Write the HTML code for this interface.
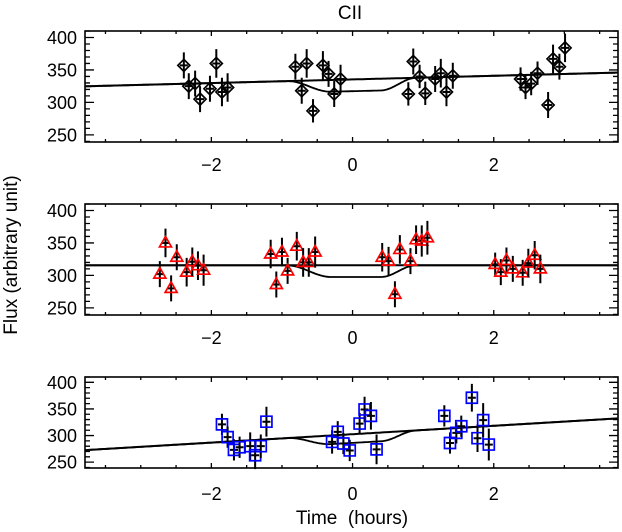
<!DOCTYPE html>
<html><head><meta charset="utf-8"><style>
html,body{margin:0;padding:0;background:#fff;}
svg{display:block;font-family:"Liberation Sans",sans-serif;}
</style></head><body>
<svg id="chart" width="622" height="532" viewBox="0 0 622 532" xmlns="http://www.w3.org/2000/svg">
<text x="350" y="19" font-size="19" text-anchor="middle">CII</text>
<text x="352" y="524" font-size="19" text-anchor="middle" xml:space="preserve">Time  (hours)</text>
<text x="0" y="0" font-size="19" text-anchor="middle" transform="translate(17,255) rotate(-90)">Flux (arbitrary unit)</text>
</svg>
<script>
// panel 1 data (black diamonds)
const t1 = [-2.39,-2.32,-2.23,-2.16,-2.02,-1.93,-1.85,-1.77,-0.81,-0.72,-0.65,-0.56,-0.42,-0.34,-0.26,-0.17,0.79,0.86,0.95,1.03,1.17,1.25,1.33,1.42,2.38,2.45,2.53,2.62,2.77,2.84,2.93,3.01];
const f1 = [357,325,329,305,321,360,316,323,355,318,360,287,357,344,313,336,313,363,340,314,336,345,316,341,336,323,329,345,296,367,355,384];
const e1 = [20,20,20,20,20,22,22,22,20,20,22,18,22,20,20,22,18,20,18,18,20,22,22,20,18,18,18,18,20,22,20,22];
// panel 2 data (red triangles)
const t2 = [-2.73,-2.65,-2.57,-2.49,-2.35,-2.27,-2.19,-2.11,-1.16,-1.08,-1.0,-0.92,-0.79,-0.70,-0.62,-0.53,0.42,0.51,0.60,0.67,0.82,0.90,0.98,1.06,2.02,2.10,2.18,2.27,2.41,2.49,2.58,2.66];
const f2 = [302,350,280,328,305,321,315,308,333,286,336,307,345,320,320,336,328,322,271,340,322,355,353,358,317,305,323,310,304,319,331,310];
const e2 = [20,22,20,20,22,22,22,24,22,20,22,20,22,22,22,24,22,22,20,22,20,22,24,26,18,20,20,20,20,22,22,22];
// panel 3 data (blue squares)
const t3 = [-1.85,-1.77,-1.68,-1.60,-1.45,-1.38,-1.30,-1.22,-0.29,-0.21,-0.13,-0.04,0.10,0.17,0.26,0.34,1.30,1.38,1.47,1.54,1.69,1.77,1.85,1.93];
const f3 = [321,297,273,278,280,263,280,326,288,307,285,272,322.5,349,337,274,337,286,305,317.5,371,295,329,283];
const e3 = [20,20,20,20,26,26,22,28,22,20,20,20,20,24,26,28,20,20,20,20,26,26,32,30];
// model parameters: baseline intercept, slope, fractional transit depth
const base = [335.4, 315.5, 302.5];
const slope = [2.8, 0, 7.9];
const depth = [0.054, 0.057, 0.054];
const contact = [-0.93, -0.3, 0.4, 0.9];
const xTicks = [-2, 0, 2];
const yTicks = [250, 300, 350, 400];

const NS = "http://www.w3.org/2000/svg";
const svg = document.getElementById('chart');
const X0 = 85, X1 = 618, TMIN = -3.79, TMAX = 3.76, YMIN = 239, YMAX = 410;
const panels = [
  {top:31, bot:142, t:t1, f:f1, e:e1, mk:'diamond', col:'#000', lab:171},
  {top:204, bot:315, t:t2, f:f2, e:e2, mk:'triangle', col:'#ff0000', lab:344},
  {top:377, bot:468, t:t3, f:f3, e:e3, mk:'square', col:'#0000ff', lab:500}
];
function xs(t){ return X0 + (t - TMIN) / (TMAX - TMIN) * (X1 - X0); }
function mk(tag, attrs, parent){ const el = document.createElementNS(NS, tag); for (const k in attrs) el.setAttribute(k, attrs[k]); (parent||svg).appendChild(el); return el; }
function dip(t){
  const [a,b,c,d] = contact;
  if (t <= a || t >= d) return 0;
  if (t < b) return (1 - Math.cos(Math.PI * (t - a) / (b - a))) / 2;
  if (t <= c) return 1;
  return (1 + Math.cos(Math.PI * (t - c) / (d - c))) / 2;
}
panels.forEach((p, i) => {
  const ys = v => p.bot - (v - YMIN) / (YMAX - YMIN) * (p.bot - p.top);
  const g = mk('g', {});
  
  
  let d = '';
  for (let v = 240; v <= 410; v += 10) {
    const y = ys(v), L = (v % 50 === 0) ? 9 : 5;
    d += `M${X0},${y}h${L}M${X1},${y}h${-L}`;
  }
  for (let t = -3.5; t <= 3.5; t += 0.5) {
    const x = xs(t), L = (Math.abs(t % 2) < 1e-6) ? 5 : 3;
    d += `M${x},${p.bot}v${-L}M${x},${p.top}v${L}`;
  }
  const tk = mk('path', {d, stroke:'#000', 'stroke-width':1.3, fill:'none'}, g);
  
  
  let lb = '', lm = '';
  for (let t = TMIN; t <= TMAX + 1e-9; t += 0.02) {
    const b = base[i] + slope[i] * t;
    lb += (lb ? 'L' : 'M') + xs(t).toFixed(1) + ',' + ys(b).toFixed(1);
    lm += (lm ? 'L' : 'M') + xs(t).toFixed(1) + ',' + ys(b * (1 - depth[i] * dip(t))).toFixed(1);
  }
  const ml = mk('path', {d:lm, stroke:'#000', 'stroke-width':1.8, fill:'none'}, g);
  
  
  const bl = mk('path', {d:lb, stroke:'#000', 'stroke-width':2, fill:'none'}, g);
  
  
  p.t.forEach((t, j) => {
    const x = xs(t), y = ys(p.f[j]);
    const pg = mk('g', {}, g);
    
    
    mk('path', {d:`M${x},${ys(p.f[j]-p.e[j])}V${ys(p.f[j]+p.e[j])}M${x-4},${y}h8`, stroke:'#000', 'stroke-width':2}, pg);
    let s;
    if (p.mk === 'diamond') s = `M${x},${y-6}L${x+6},${y}L${x},${y+6}L${x-6},${y}Z`;
    else if (p.mk === 'triangle') s = `M${x},${y-6.5}L${x+6},${y+4}L${x-6},${y+4}Z`;
    else s = `M${x-5.5},${y-5.5}h11v11h-11Z`;
    mk('path', {d:s, stroke:p.col, 'stroke-width':1.7, fill:'none'}, pg);
  });
  const fr = mk('rect', {x:X0, y:p.top, width:X1-X0, height:p.bot-p.top, fill:'none', stroke:'#000', 'stroke-width':1.6}, g);
  
  
  yTicks.forEach(v => {
    const tx = mk('text', {x:77, y:ys(v)+6.5, 'font-size':18, 'text-anchor':'end'}, g);
    tx.textContent = v;
    
    
  });
  xTicks.forEach(v => {
    const tx = mk('text', {x:xs(v), y:p.lab, 'font-size':18, 'text-anchor':'middle'}, g);
    tx.textContent = v < 0 ? '\u2212' + (-v) : String(v);
    
    
  });
});
</script>
</body></html>
